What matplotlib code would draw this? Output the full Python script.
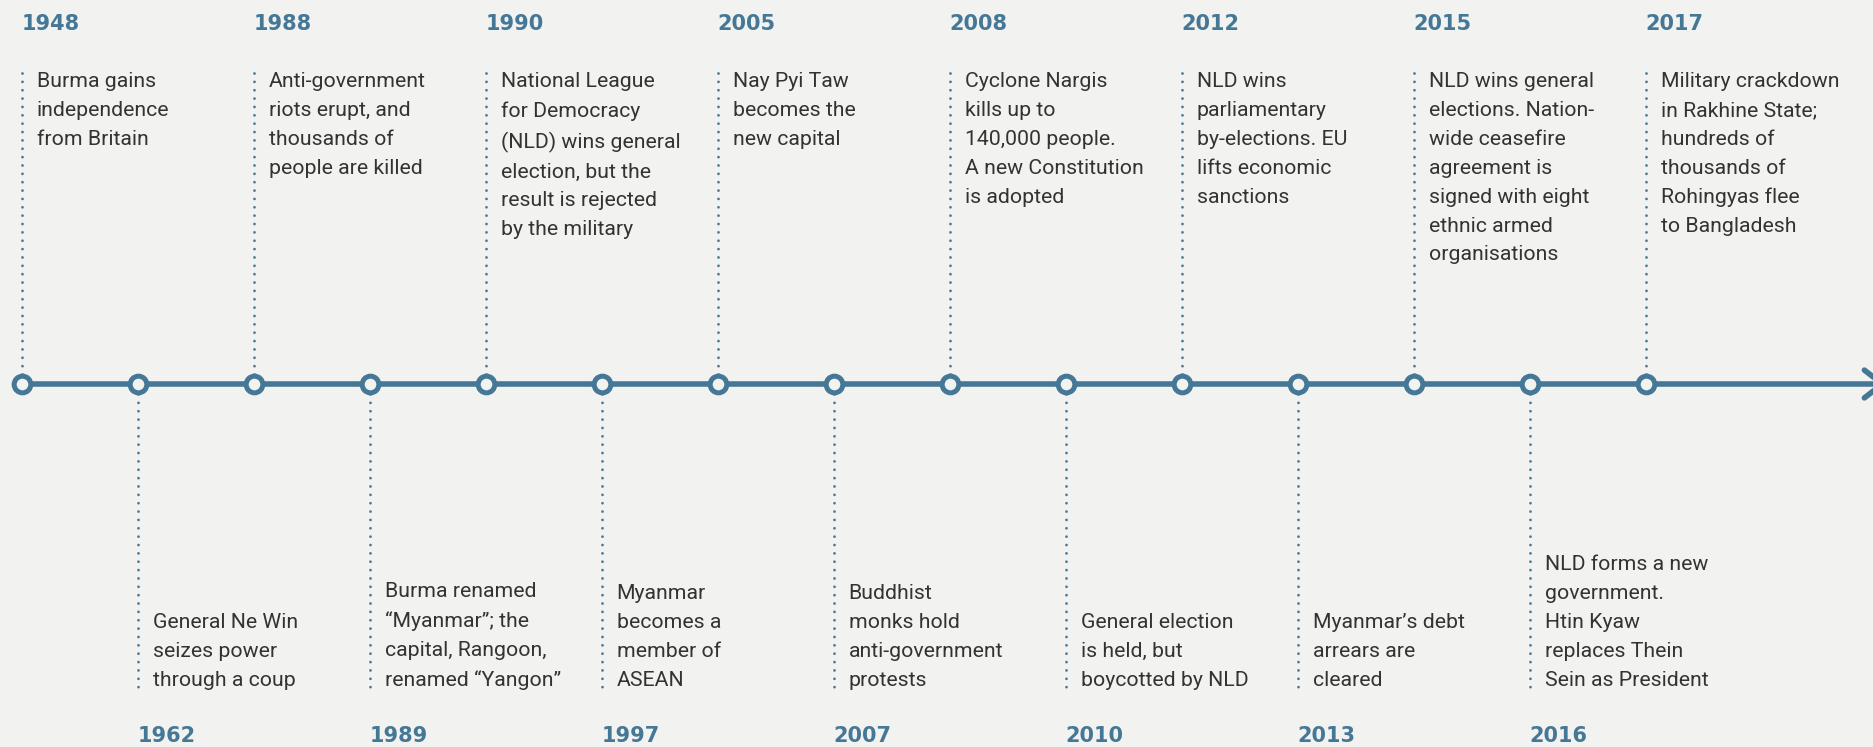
import matplotlib.pyplot as plt

# timeline data (evenly spaced nodes, alternating top / bottom)
years = ['1948', '1962', '1988', '1989', '1990', '1997', '2005', '2007',
         '2008', '2010', '2012', '2013', '2015', '2016', '2017']
events = [
    "Burma gains\nindependence\nfrom Britain",
    "General Ne Win\nseizes power\nthrough a coup",
    "Anti-government\nriots erupt, and\nthousands of\npeople are killed",
    "Burma renamed\n\u201cMyanmar\u201d; the\ncapital, Rangoon,\nrenamed \u201cYangon\u201d",
    "National League\nfor Democracy\n(NLD) wins general\nelection, but the\nresult is rejected\nby the military",
    "Myanmar\nbecomes a\nmember of\nASEAN",
    "Nay Pyi Taw\nbecomes the\nnew capital",
    "Buddhist\nmonks hold\nanti-government\nprotests",
    "Cyclone Nargis\nkills up to\n140,000 people.\nA new Constitution\nis adopted",
    "General election\nis held, but\nboycotted by NLD",
    "NLD wins\nparliamentary\nby-elections. EU\nlifts economic\nsanctions",
    "Myanmar\u2019s debt\narrears are\ncleared",
    "NLD wins general\nelections. Nation-\nwide ceasefire\nagreement is\nsigned with eight\nethnic armed\norganisations",
    "NLD forms a new\ngovernment.\nHtin Kyaw\nreplaces Thein\nSein as President",
    "Military crackdown\nin Rakhine State;\nhundreds of\nthousands of\nRohingyas flee\nto Bangladesh",
]

BLUE = '#457896'
BG = '#f2f2f1'
TXT = '#333333'
FONT = 'Roboto'

fig = plt.figure(figsize=(18.74, 7.47), dpi=100)
fig.patch.set_facecolor(BG)
ax = fig.add_axes([0, 0, 1, 1])
ax.set_facecolor(BG)
ax.axis('off')

# x: one unit per event, y: pixels from top
step = 116.0
x0 = 21.7
ax.set_xlim(-x0 / step, (1874 - x0) / step)
ax.set_ylim(747, 0)

axis_y = 384
n = len(years)
xs = list(range(n))

# main line with arrow running off the right edge
ax.annotate('', xy=(16.08, axis_y), xytext=(0, axis_y),
            arrowprops=dict(arrowstyle='->,head_length=1.3,head_width=1.0',
                            color=BLUE, lw=4, shrinkA=0, shrinkB=0),
            annotation_clip=False, zorder=2)

for i in xs:
    top = i % 2 == 0
    if top:
        ax.plot([i, i], [73, axis_y - 10], color=BLUE, lw=2,
                dashes=(0.01, 3.0), dash_capstyle='round', zorder=1)
        ax.text(i, 23.5, years[i], color=BLUE, fontsize=15, fontweight='bold',
                family='DejaVu Sans', ha='left', va='center')
        ax.text(i + 15 / step, 72, events[i], color=TXT, fontsize=15.3,
                family=FONT, ha='left', va='top', linespacing=1.66)
    else:
        ax.plot([i, i], [axis_y + 10, 687], color=BLUE, lw=2,
                dashes=(0.01, 3.0), dash_capstyle='round', zorder=1)
        ax.text(i, 736, years[i], color=BLUE, fontsize=15, fontweight='bold',
                family='DejaVu Sans', ha='left', va='center')
        ax.text(i + 15 / step, 690, events[i], color=TXT, fontsize=15.3,
                family=FONT, ha='left', va='bottom', linespacing=1.66)

ax.plot(xs, [axis_y] * n, linestyle='none', marker='o', markersize=12,
        markerfacecolor=BG, markeredgecolor=BLUE, markeredgewidth=3.6, zorder=3)

fig.savefig('out.png', dpi=100, facecolor=BG)
